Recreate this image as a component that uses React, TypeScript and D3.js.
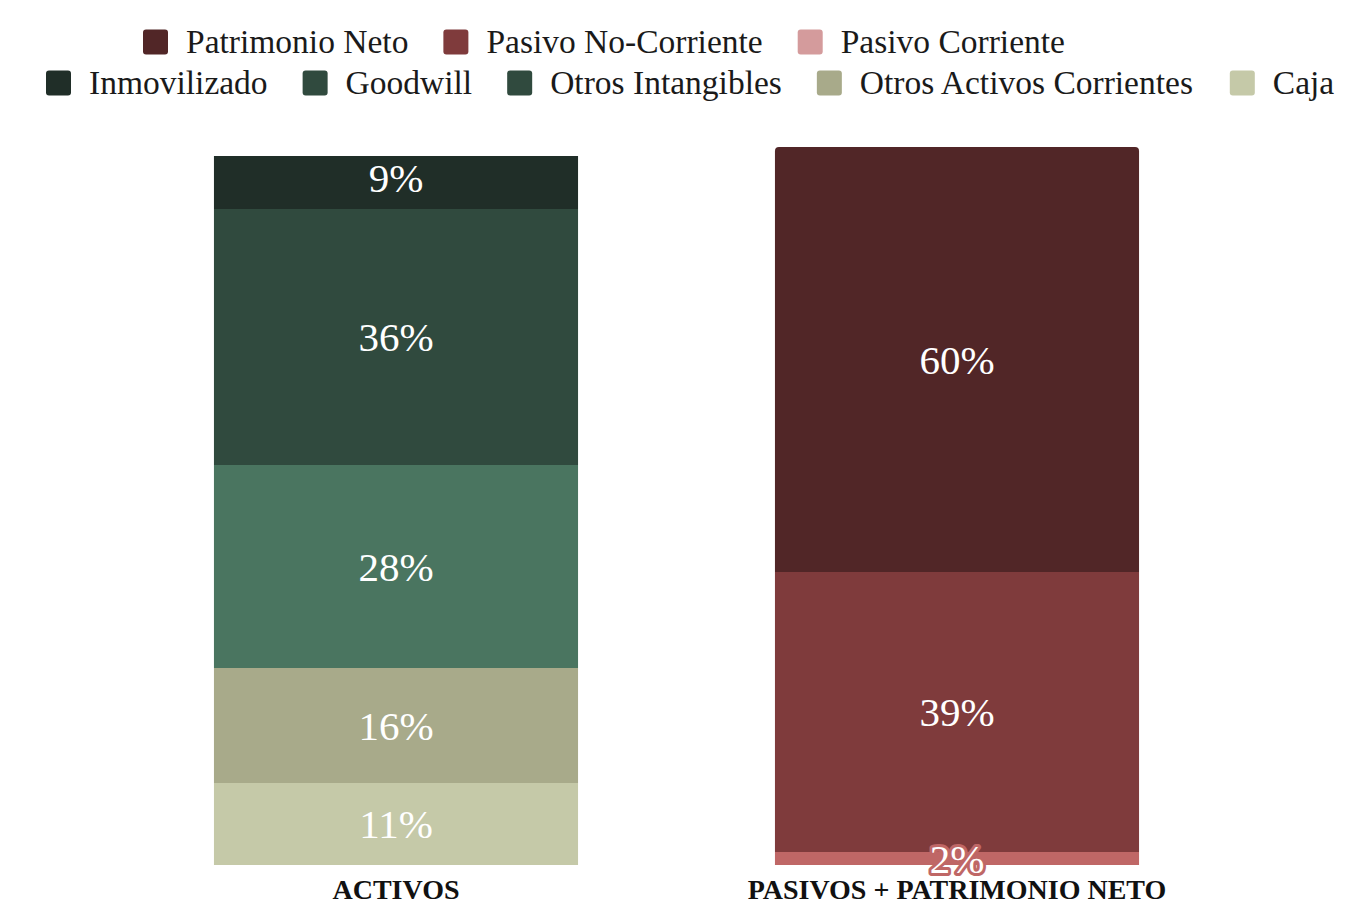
import React, { useMemo } from "react";
import * as d3 from "d3";

// ---- data ----
const categories = ["ACTIVOS", "PASIVOS + PATRIMONIO NETO"];

const assetSeries = ["Caja", "Otros Activos Corrientes", "Otros Intangibles", "Goodwill", "Inmovilizado"];
const assetValues = [82, 115, 203, 256, 53];
const assetLabels = ["11%", "16%", "28%", "36%", "9%"];

const liabSeries = ["Pasivo Corriente", "Pasivo No-Corriente", "Patrimonio Neto"];
const liabValues = [13, 280, 425];
const liabLabels = ["2%", "39%", "60%"];

const legendRow1 = ["Patrimonio Neto", "Pasivo No-Corriente", "Pasivo Corriente"];
const legendRow2 = ["Inmovilizado", "Goodwill", "Otros Intangibles", "Otros Activos Corrientes", "Caja"];

// ---- styles ----
const barColors: Record<string, string> = {
  "Caja": "#c5c9a8",
  "Otros Activos Corrientes": "#a8aa8a",
  "Otros Intangibles": "#4a7560",
  "Goodwill": "#304a3e",
  "Inmovilizado": "#202e28",
  "Pasivo Corriente": "#bf6766",
  "Pasivo No-Corriente": "#7f3b3c",
  "Patrimonio Neto": "#512627",
};
const legendColors: Record<string, string> = {
  ...barColors,
  "Pasivo Corriente": "#d49b9c",
  "Otros Intangibles": "#304a3e",
};

const W = 1350;
const H = 910;
const FONT = "'Liberation Serif', 'DejaVu Serif', serif";
const LEGEND_FS = 33.5;
const LABEL_FS = 41;
const AXIS_FS = 28;
const topRadius = [0, 4];

function topRoundedRect(x: number, y: number, w: number, h: number, r: number) {
  if (r <= 0) return `M${x},${y}h${w}v${h}h${-w}Z`;
  return `M${x},${y + h}V${y + r}Q${x},${y} ${x + r},${y}H${x + w - r}Q${x + w},${y} ${x + w},${y + r}V${y + h}Z`;
}

export default function App() {
  const stacks = [
    { cat: categories[0], series: assetSeries, values: assetValues, labels: assetLabels },
    { cat: categories[1], series: liabSeries, values: liabValues, labels: liabLabels },
  ];
  const maxTotal = d3.max(stacks, (s) => d3.sum(s.values)) as number;

  const x = d3.scaleBand<string>().domain(categories).range([115.5, 1237.5]).paddingInner(0.351).paddingOuter(0.1755);
  const y = d3.scaleLinear().domain([0, maxTotal]).range([865, 147]);

  const measure = useMemo(() => {
    const ctx = document.createElement("canvas").getContext("2d")!;
    ctx.font = `${LEGEND_FS}px ${FONT}`;
    return (t: string) => ctx.measureText(t).width;
  }, []);

  const legendRows = [
    { items: legendRow1, start: 143, cy: 42 },
    { items: legendRow2, start: 46, cy: 83 },
  ];
  const sw = 25;
  const swGap = 18;
  const itemGap = 35;

  return (
    <svg width={W} height={H} style={{ position: "absolute", left: 0, top: 0, background: "#fff" }} fontFamily={FONT}>
      {/* legend */}
      {legendRows.map((row, ri) => {
        let cx = row.start;
        return (
          <g key={ri}>
            {row.items.map((name) => {
              const gx = cx;
              const tw = measure(name);
              cx += sw + swGap + tw + itemGap;
              return (
                <g key={name}>
                  <rect x={gx} y={row.cy - sw / 2} width={sw} height={sw} rx={3} fill={legendColors[name]} />
                  <text x={gx + sw + swGap} y={row.cy} dy="0.33em" fontSize={LEGEND_FS} fill="#1a1a1a">
                    {name}
                  </text>
                </g>
              );
            })}
          </g>
        );
      })}

      {/* bars */}
      {stacks.map((s, si) => {
        const bx = x(s.cat)!;
        const bw = x.bandwidth();
        let acc = 0;
        const segs = s.values.map((v, i) => {
          const y0 = acc;
          acc += v;
          return { name: s.series[i], v, y0, y1: acc, label: s.labels[i], last: i === s.values.length - 1 };
        });
        return (
          <g key={s.cat}>
            {segs.map((seg) => {
              const top = y(seg.y1);
              const bot = y(seg.y0);
              return (
                <path
                  key={seg.name}
                  d={topRoundedRect(bx, top, bw, bot - top, seg.last ? topRadius[si] : 0)}
                  fill={barColors[seg.name]}
                />
              );
            })}
            {segs.map((seg) => {
              const top = y(seg.y1);
              const bot = y(seg.y0);
              const h = bot - top;
              const small = h < LABEL_FS;
              const ly = !small && h < 60 ? top + h * 0.4 : (top + bot) / 2;
              return (
                <text
                  key={seg.name + "-l"}
                  x={bx + bw / 2}
                  y={ly}
                  dy="0.35em"
                  textAnchor="middle"
                  fontSize={LABEL_FS}
                  fill="#ffffff"
                  stroke={small ? barColors[seg.name] : "none"}
                  strokeWidth={small ? 6 : 0}
                  strokeLinejoin="round"
                  paintOrder="stroke"
                >
                  {seg.label}
                </text>
              );
            })}
            <text
              x={bx + bw / 2}
              y={899}
              textAnchor="middle"
              fontSize={AXIS_FS}
              fontWeight="bold"
              fill="#111"
            >
              {s.cat}
            </text>
          </g>
        );
      })}
    </svg>
  );
}
